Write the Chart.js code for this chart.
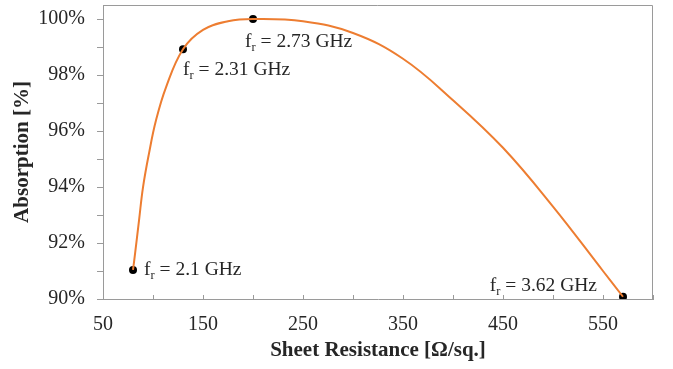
<!DOCTYPE html>
<html>
<head>
<meta charset="utf-8">
<script src="https://cdn.jsdelivr.net/npm/chart.js@4.4.1/dist/chart.umd.min.js"></script>
<style>
html, body { margin: 0; padding: 0; background: #fff; }
#wrap { width: 673px; height: 369px; position: relative; }
</style>
</head>
<body>
<div id="wrap"><canvas id="absorptionChart"></canvas></div>
<script>
//sheet resistance sweep (ohm/sq) and absorption (%)
var sheetResistance = [80, 82, 86, 90, 96, 103, 113, 130, 150, 175, 200,
    250, 300, 350, 400, 450, 500, 550, 570];
var absorption = [91.04, 91.6, 92.8, 93.99, 95.2, 96.38, 97.56, 98.92, 99.61, 99.92, 100.0,
    99.92, 99.5, 98.58, 97.1, 95.4, 93.3, 91.0, 90.08];
//marked resonance points
var markerResistance = [80, 130, 200, 570];
var markerAbsorption = [91.04, 98.92, 100.0, 90.08];
var markerFreq = ['2.1', '2.31', '2.73', '3.62'];
//axis ticks
var xTicks = [50, 100, 150, 200, 250, 300, 350, 400, 450, 500, 550, 600];
var xTickLabels = [50, 150, 250, 350, 450, 550];
var yTicks = [90, 91, 92, 93, 94, 95, 96, 97, 98, 99, 100];

var serif = "'Liberation Serif', 'Times New Roman', serif";
var textColor = '#262626';
var axisColor = '#9a9a9a';

//label placement next to each marker: dx, dy to baseline, alignment
var labelPlacement = [
    { dx: 11, dy: 5.5, align: 'left' },
    { dx: 0, dy: 26, align: 'left' },
    { dx: -8, dy: 28, align: 'left' },
    { dx: -26, dy: -6, align: 'right' }
];

function toPoints(xs, ys) {
    return xs.map(function (v, i) { return { x: v, y: ys[i] }; });
}

//draws "f_r = ... GHz" with a subscript r
function drawFreqLabel(ctx, text, x, y, align) {
    var mainFont = '19.5px ' + serif;
    var subFont = '12.5px ' + serif;
    ctx.font = mainFont;
    var fW = ctx.measureText('f').width;
    var restW = ctx.measureText(' = ' + text + ' GHz').width;
    ctx.font = subFont;
    var rW = ctx.measureText('r').width;
    var total = fW + rW + restW;
    var start = align === 'right' ? x - total : x;
    ctx.textAlign = 'left';
    ctx.textBaseline = 'alphabetic';
    ctx.fillStyle = textColor;
    ctx.font = mainFont;
    ctx.fillText('f', start, y);
    ctx.font = subFont;
    ctx.fillText('r', start + fW, y + 4);
    ctx.font = mainFont;
    ctx.fillText(' = ' + text + ' GHz', start + fW + rW, y);
}

var frameAndLabels = {
    id: 'frameAndLabels',
    beforeDatasetsDraw: function (chart) {
        var ctx = chart.ctx, a = chart.chartArea, x = chart.scales.x;
        ctx.save();
        ctx.strokeStyle = axisColor;
        ctx.lineWidth = 1;
        //top and right edge of the plot box
        ctx.beginPath();
        ctx.moveTo(a.left, Math.round(a.top) + 0.5);
        ctx.lineTo(Math.round(a.right) - 0.5, Math.round(a.top) + 0.5);
        ctx.lineTo(Math.round(a.right) - 0.5, a.bottom);
        ctx.stroke();
        //x ticks point into the plot
        ctx.beginPath();
        xTicks.forEach(function (v) {
            var px = Math.round(x.getPixelForValue(v)) + 0.5;
            ctx.moveTo(px, a.bottom);
            ctx.lineTo(px, a.bottom - 4);
        });
        ctx.stroke();
        ctx.restore();
    },
    afterDatasetsDraw: function (chart) {
        var ctx = chart.ctx;
        var meta = chart.getDatasetMeta(1);
        ctx.save();
        meta.data.forEach(function (pt, i) {
            var p = labelPlacement[i];
            drawFreqLabel(ctx, markerFreq[i], pt.x + p.dx, pt.y + p.dy, p.align);
        });
        ctx.restore();
    }
};

var chart = new Chart(document.getElementById('absorptionChart'), {
    type: 'line',
    data: {
        datasets: [
            {
                label: 'Absorption',
                data: toPoints(sheetResistance, absorption),
                borderColor: '#ed7d31',
                borderWidth: 2,
                pointRadius: 0,
                tension: 0.4,
                fill: false
            },
            {
                label: 'Resonance',
                data: toPoints(markerResistance, markerAbsorption),
                showLine: false,
                pointRadius: 4,
                pointBackgroundColor: '#000',
                pointBorderColor: '#000',
                pointBorderWidth: 0
            }
        ]
    },
    options: {
        responsive: true,
        maintainAspectRatio: false,
        animation: false,
        devicePixelRatio: 1,
        layout: { padding: { top: 5, right: 20, left: 0, bottom: 0 } },
        plugins: {
            legend: { display: false },
            tooltip: { enabled: false }
        },
        scales: {
            x: {
                type: 'linear',
                min: 50,
                max: 600,
                afterFit: function (scale) {
                    scale.height = 70;
                    scale.paddingLeft = 0;
                    scale.paddingRight = 0;
                },
                afterBuildTicks: function (scale) {
                    scale.ticks = xTicks.map(function (v) { return { value: v }; });
                },
                ticks: {
                    autoSkip: false,
                    maxRotation: 0,
                    padding: 14,
                    color: textColor,
                    font: { family: serif, size: 20 },
                    callback: function (v) { return xTickLabels.indexOf(v) >= 0 ? String(v) : ''; }
                },
                grid: { drawOnChartArea: false, drawTicks: false },
                border: { color: axisColor, width: 1 },
                title: {
                    display: true,
                    text: 'Sheet Resistance [\u03A9/sq.]',
                    color: textColor,
                    font: { family: serif, size: 21, weight: 'bold' },
                    padding: { top: 0, bottom: 6 }
                }
            },
            y: {
                min: 90,
                max: 100.5,
                afterFit: function (scale) {
                    scale.width = 103;
                    scale.paddingTop = 0;
                    scale.paddingBottom = 0;
                },
                afterBuildTicks: function (scale) {
                    scale.ticks = yTicks.map(function (v) { return { value: v }; });
                },
                ticks: {
                    autoSkip: false,
                    padding: 12,
                    color: textColor,
                    font: { family: serif, size: 20 },
                    callback: function (v) { return v % 2 === 0 ? v + '%' : ''; }
                },
                grid: { drawOnChartArea: false, drawTicks: true, tickLength: 6, color: axisColor },
                border: { color: axisColor, width: 1 },
                title: {
                    display: true,
                    text: 'Absorption [%]',
                    color: textColor,
                    font: { family: serif, size: 21, weight: 'bold' },
                    padding: { top: 10, bottom: 0 }
                }
            }
        }
    },
    plugins: [frameAndLabels]
});
</script>
</body>
</html>
